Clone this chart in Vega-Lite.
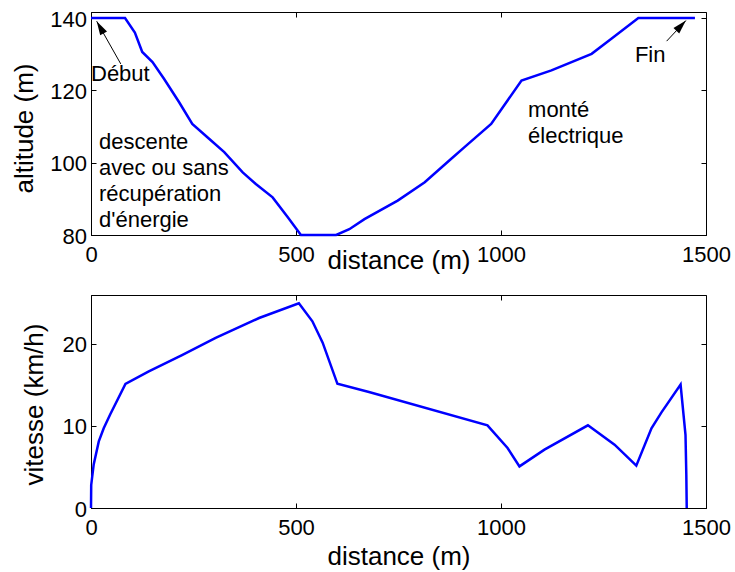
{
  "$schema": "https://vega.github.io/schema/vega-lite/v6.json",
  "padding": {"left": 10, "top": 7, "right": 5, "bottom": 5},
  "background": "white",
  "bounds": "flush",
  "spacing": 60,
  "config": {
    "font": "Liberation Sans",
    "view": {"stroke": "black", "strokeWidth": 1},
    "axis": {
      "labelFont": "Liberation Sans",
      "labelFontSize": 22,
      "labelColor": "black",
      "labelFlush": false,
      "labelOverlap": false,
      "titleFont": "Liberation Sans",
      "titleFontSize": 26,
      "titleFontWeight": "normal",
      "titleColor": "black",
      "domainColor": "black",
      "domainWidth": 1,
      "tickColor": "black",
      "tickWidth": 1,
      "tickSize": -5,
      "grid": false
    }
  },
  "datasets": {
    "altitude": [
      {"distance": 0, "altitude": 140},
      {"distance": 83, "altitude": 140},
      {"distance": 107, "altitude": 136},
      {"distance": 125, "altitude": 130.6},
      {"distance": 150, "altitude": 127.8},
      {"distance": 178, "altitude": 123.2},
      {"distance": 215, "altitude": 116.7},
      {"distance": 247, "altitude": 110.7},
      {"distance": 288, "altitude": 106.6},
      {"distance": 325, "altitude": 102.9},
      {"distance": 370, "altitude": 97.3},
      {"distance": 402, "altitude": 94.1},
      {"distance": 443, "altitude": 90.4},
      {"distance": 480, "altitude": 84.9},
      {"distance": 512, "altitude": 80},
      {"distance": 598, "altitude": 80},
      {"distance": 630, "altitude": 81.6},
      {"distance": 667, "altitude": 84.4},
      {"distance": 748, "altitude": 89.5},
      {"distance": 814, "altitude": 94.6},
      {"distance": 878, "altitude": 101},
      {"distance": 911, "altitude": 104.3},
      {"distance": 976, "altitude": 110.7},
      {"distance": 1050, "altitude": 122.7},
      {"distance": 1123, "altitude": 125.5},
      {"distance": 1221, "altitude": 130.1},
      {"distance": 1270, "altitude": 134.3},
      {"distance": 1335, "altitude": 140},
      {"distance": 1473, "altitude": 140}
    ],
    "speed": [
      {"distance": 0, "vitesse": 0},
      {"distance": 0.5, "vitesse": 2.8},
      {"distance": 6.6, "vitesse": 5.3},
      {"distance": 19, "vitesse": 8.1},
      {"distance": 31, "vitesse": 9.7},
      {"distance": 47, "vitesse": 11.4},
      {"distance": 84, "vitesse": 15.1},
      {"distance": 141, "vitesse": 16.6},
      {"distance": 222, "vitesse": 18.6},
      {"distance": 304, "vitesse": 20.7},
      {"distance": 410, "vitesse": 23.1},
      {"distance": 507, "vitesse": 24.9},
      {"distance": 540, "vitesse": 22.7},
      {"distance": 565, "vitesse": 20.1},
      {"distance": 601, "vitesse": 15.1},
      {"distance": 678, "vitesse": 14.1},
      {"distance": 967, "vitesse": 10.05},
      {"distance": 1016, "vitesse": 7.3},
      {"distance": 1045, "vitesse": 5.06},
      {"distance": 1106, "vitesse": 7.1},
      {"distance": 1212, "vitesse": 10.05},
      {"distance": 1277, "vitesse": 7.7},
      {"distance": 1330, "vitesse": 5.15},
      {"distance": 1367, "vitesse": 9.7},
      {"distance": 1391, "vitesse": 11.6},
      {"distance": 1438, "vitesse": 15},
      {"distance": 1450, "vitesse": 8.9},
      {"distance": 1452, "vitesse": 4.05},
      {"distance": 1453, "vitesse": 0}
    ],
    "notes": [
      {"distance": 19.5, "altitude": 103.8, "label": "descente\navec ou sans\nrécupération\nd'énergie"},
      {"distance": 1066, "altitude": 112.6, "label": "monté\nélectrique"},
      {"distance": 0, "altitude": 122.6, "label": "Début"},
      {"distance": 1326.6, "altitude": 127.8, "label": "Fin"}
    ],
    "arrows": [
      {"name": "Début", "distance": 72.6, "altitude": 127.3, "distance2": 13.9, "altitude2": 139.1},
      {"name": "Fin", "distance": 1404, "altitude": 133.6, "distance2": 1451, "altitude2": 139.3}
    ]
  },
  "vconcat": [
    {
      "width": 615,
      "height": 223,
      "resolve": {"axis": {"x": "independent", "y": "independent"}},
      "layer": [
        {
          "data": {"name": "altitude"},
          "mark": {"type": "line", "color": "#0000ff", "strokeWidth": 2.5},
          "encoding": {
            "x": {
              "field": "distance", "type": "quantitative",
              "scale": {"domain": [0, 1500], "nice": false, "zero": false},
              "axis": {
                "orient": "bottom", "values": [0, 500, 1000, 1500], "format": "d",
                "title": "distance (m)", "titleBaseline": "alphabetic", "titleY": 33,
                "labelBaseline": "alphabetic", "labelPadding": 31.7
              }
            },
            "y": {
              "field": "altitude", "type": "quantitative",
              "scale": {"domain": [80, 141.66], "nice": false, "zero": false},
              "axis": {
                "orient": "left", "values": [80, 100, 120, 140],
                "title": "altitude  (m)", "titleBaseline": "alphabetic", "titleX": -58.7, "titleY": 116,
                "labelBaseline": "alphabetic", "labelOffset": 8, "labelPadding": 9.5
              }
            }
          }
        },
        {
          "data": {"name": "altitude"},
          "mark": {"type": "line", "opacity": 0},
          "encoding": {
            "x": {
              "field": "distance", "type": "quantitative",
              "axis": {"orient": "top", "values": [0, 500, 1000, 1500], "labels": false, "title": null, "domain": false}
            },
            "y": {
              "field": "altitude", "type": "quantitative",
              "axis": {"orient": "right", "values": [80, 100, 120, 140], "labels": false, "title": null, "domain": false}
            }
          }
        },
        {
          "data": {"name": "notes"},
          "mark": {"type": "text", "align": "left", "baseline": "alphabetic", "lineBreak": "\n", "lineHeight": 26, "fontSize": 22, "font": "Liberation Sans", "color": "black"},
          "encoding": {
            "x": {"field": "distance", "type": "quantitative", "axis": null},
            "y": {"field": "altitude", "type": "quantitative", "axis": null},
            "text": {"field": "label"}
          }
        },
        {
          "data": {"name": "arrows"},
          "mark": {"type": "rule", "color": "black", "strokeWidth": 1},
          "encoding": {
            "x": {"field": "distance", "type": "quantitative", "axis": null},
            "y": {"field": "altitude", "type": "quantitative", "axis": null},
            "x2": {"field": "distance2"},
            "y2": {"field": "altitude2"}
          }
        },
        {
          "data": {"name": "arrows"},
          "transform": [{"filter": "datum.name === 'Début'"}],
          "mark": {"type": "point", "shape": "M0,0L-0.28,1L0.28,1Z", "filled": true, "color": "black", "opacity": 1, "size": 784, "angle": 330.4},
          "encoding": {
            "x": {"field": "distance2", "type": "quantitative", "axis": null},
            "y": {"field": "altitude2", "type": "quantitative", "axis": null}
          }
        },
        {
          "data": {"name": "arrows"},
          "transform": [{"filter": "datum.name === 'Fin'"}],
          "mark": {"type": "point", "shape": "M0,0L-0.28,1L0.28,1Z", "filled": true, "color": "black", "opacity": 1, "size": 784, "angle": 43.1},
          "encoding": {
            "x": {"field": "distance2", "type": "quantitative", "axis": null},
            "y": {"field": "altitude2", "type": "quantitative", "axis": null}
          }
        }
      ]
    },
    {
      "width": 615,
      "height": 213,
      "resolve": {"axis": {"x": "independent", "y": "independent"}},
      "layer": [
        {
          "data": {"name": "speed"},
          "mark": {"type": "line", "color": "#0000ff", "strokeWidth": 2.5},
          "encoding": {
            "x": {
              "field": "distance", "type": "quantitative",
              "scale": {"domain": [0, 1500], "nice": false, "zero": false},
              "axis": {
                "orient": "bottom", "values": [0, 500, 1000, 1500], "format": "d",
                "title": "distance (m)", "titleBaseline": "alphabetic", "titleY": 56,
                "labelBaseline": "alphabetic", "labelPadding": 31
              }
            },
            "y": {
              "field": "vitesse", "type": "quantitative",
              "scale": {"domain": [0, 25.9], "nice": false, "zero": false},
              "axis": {
                "orient": "left", "values": [0, 10, 20],
                "title": "vitesse  (km/h)", "titleBaseline": "alphabetic", "titleX": -48.7, "titleY": 109,
                "labelBaseline": "alphabetic", "labelOffset": 8, "labelPadding": 9.5
              }
            }
          }
        },
        {
          "data": {"name": "speed"},
          "mark": {"type": "line", "opacity": 0},
          "encoding": {
            "x": {
              "field": "distance", "type": "quantitative",
              "axis": {"orient": "top", "values": [0, 500, 1000, 1500], "labels": false, "title": null, "domain": false}
            },
            "y": {
              "field": "vitesse", "type": "quantitative",
              "axis": {"orient": "right", "values": [0, 10, 20], "labels": false, "title": null, "domain": false}
            }
          }
        }
      ]
    }
  ]
}
